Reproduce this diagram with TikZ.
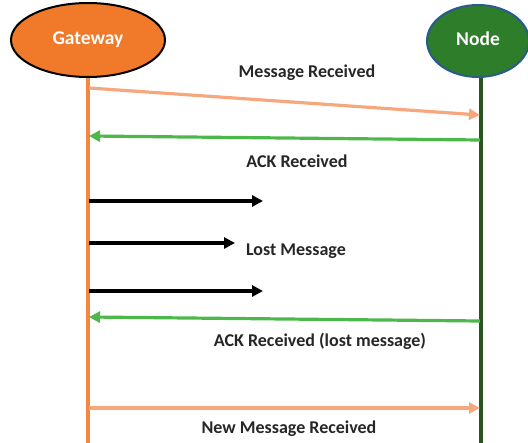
\documentclass[tikz,border=0pt]{standalone}
\usepackage{fontspec}
\setmainfont{Carlito}
\usetikzlibrary{shapes.geometric,arrows.meta}
\definecolor{gwfill}{HTML}{F07A2A}
\definecolor{gwline}{HTML}{F4873F}
\definecolor{msg}{HTML}{F7A77C}
\definecolor{ack}{HTML}{4DB84A}
\definecolor{ndfill}{HTML}{2E7D2A}
\definecolor{ndborder}{HTML}{2B5A8C}
\definecolor{ndline}{HTML}{2A5520}
\tikzset{
  actor/.style={ellipse, inner sep=0pt, line width=2pt, font=\bfseries\fontsize{19.5}{21}\selectfont, text=white},
  msgarrow/.style={draw=msg, line width=3.2pt, -{Triangle[length=11pt,width=11pt]}},
  ackarrow/.style={draw=ack, line width=3.2pt, -{Triangle[length=11pt,width=11pt]}},
  lostarrow/.style={draw=black, line width=3.2pt, -{Triangle[length=11pt,width=11pt]}},
  lbl/.style={font=\bfseries\fontsize{18}{20}\selectfont, text=black!85}
}
\begin{document}
\begin{tikzpicture}[x=1pt,y=-1pt]
\useasboundingbox (0,0) rectangle (528,443);
\node[actor, fill=gwfill, draw=black, minimum width=154pt, minimum height=74pt] (gw) at (88,40) {Gateway};
\node[actor, fill=ndfill, draw=ndborder, minimum width=102pt, minimum height=72pt] (nd) at (478,41) {\raisebox{4pt}{Node}};
\coordinate (gwend) at (88,443);
\coordinate (ndend) at (481,443);
\draw[gwline, line width=3.4pt] (gw.south) -- (gwend);
\draw[ndline, line width=3.2pt] (nd.south -| ndend) -- (ndend);
% message endpoints
\coordinate (g1) at (89,88);  \coordinate (n1) at (480,115);
\coordinate (n2) at (480,140); \coordinate (g2) at (89,136);
\coordinate (g3) at (89,201);  \coordinate (e3) at (263,201);
\coordinate (g4) at (89,243);  \coordinate (e4) at (235,243);
\coordinate (g5) at (89,291);  \coordinate (e5) at (263,291);
\coordinate (n6) at (480,321); \coordinate (g6) at (89,317);
\coordinate (g7) at (89,408);  \coordinate (n7) at (480,408);
\draw[msgarrow] (g1) -- (n1);
\draw[ackarrow] (n2) -- (g2);
\draw[lostarrow] (g3) -- (e3);
\draw[lostarrow] (g4) -- (e4);
\draw[lostarrow] (g5) -- (e5);
\draw[ackarrow] (n6) -- (g6);
\draw[msgarrow] (g7) -- (n7);
\node[lbl] (l1) at (307,73) {Message Received};
\node[lbl] (l2) at (297,161) {ACK Received};
\node[lbl] (l3) at (296,251) {Lost Message};
\node[lbl] (l4) at (320,341) {ACK Received (lost message)};
\node[lbl] (l5) at (289,429) {New Message Received};
\end{tikzpicture}
\end{document}
